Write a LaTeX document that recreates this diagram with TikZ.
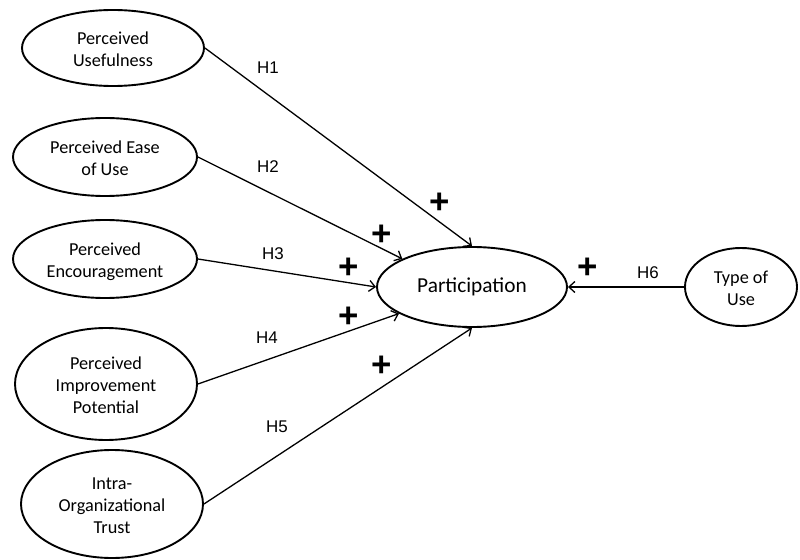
\documentclass[tikz,border=0pt]{standalone}
\usepackage{fontspec}
\setmainfont{Carlito}
\newfontfamily\labelfont{Liberation Sans}
\usetikzlibrary{shapes.geometric,arrows.meta}

% centred lines of a construct name, set a little below the shape's centre
\newcommand{\cname}[1]{\raisebox{-3bp}[\height][\depth]{\begin{tabular}{@{}c@{}}#1\end{tabular}}}

\begin{document}
\begin{tikzpicture}[x=1bp,y=-1bp,
  construct/.style={ellipse,draw,line width=1.9bp,inner sep=0pt,
    font=\fontsize{18.3}{22}\selectfont},
  path/.style={line width=1.3bp,-{Straight Barb[length=6bp,width=11bp,line width=1.3bp]}},
  hyp/.style={font=\labelfont\fontsize{17}{19}\selectfont,inner sep=0pt},
  sign/.style={font=\labelfont\bfseries\fontsize{35}{35}\selectfont,inner sep=0pt}]
\useasboundingbox (0,0) rectangle (800,560);

% exogenous constructs
\node[construct,minimum width=182bp,minimum height=76bp]  (pu)  at (113,48)  {\cname{Perceived\\Usefulness}};
\node[construct,minimum width=184bp,minimum height=78bp]  (peu) at (105,157) {\cname{Perceived Ease\\of Use}};
\node[construct,minimum width=184bp,minimum height=78bp]  (pe)  at (105,259) {\cname{Perceived\\Encouragement}};
\node[construct,minimum width=182bp,minimum height=112bp] (pip) at (106,384) {\cname{Perceived\\Improvement\\Potential}};
\node[construct,minimum width=182bp,minimum height=108bp] (iot) at (112,504) {\cname{Intra-\\Organizational\\Trust}};

% outcome and type of use
\node[construct,minimum width=190bp,minimum height=80bp,font=\fontsize{21.4}{24}\selectfont] (part) at (472,287) {Participation};
\node[construct,minimum width=112bp,minimum height=78bp]  (tou) at (741,287) {\cname{Type of\\Use}};

% hypothesised paths
\draw[path] (pu.east)  -- (part.north);
\draw[path] (peu.east) -- (part.158);
\draw[path] (pe.east)  -- (part.west);
\draw[path] (pip.east) -- (part.200);
\draw[path] (iot.east) -- (part.south);
\draw[path] (tou.west) -- (part.east);

% hypothesis labels
\node[hyp] (h1) at (268,68)  {H1};
\node[hyp] (h2) at (268,167) {H2};
\node[hyp] (h3) at (273,254) {H3};
\node[hyp] (h4) at (267,338) {H4};
\node[hyp] (h5) at (277,427) {H5};
\node[hyp] (h6) at (648,273) {H6};

% expected signs
\node[sign] (s1) at (440,203) {+};
\node[sign] (s2) at (382,235) {+};
\node[sign] (s3) at (349,268) {+};
\node[sign] (s4) at (349,317) {+};
\node[sign] (s5) at (382,366) {+};
\node[sign] (s6) at (588,268) {+};
\end{tikzpicture}
\end{document}
